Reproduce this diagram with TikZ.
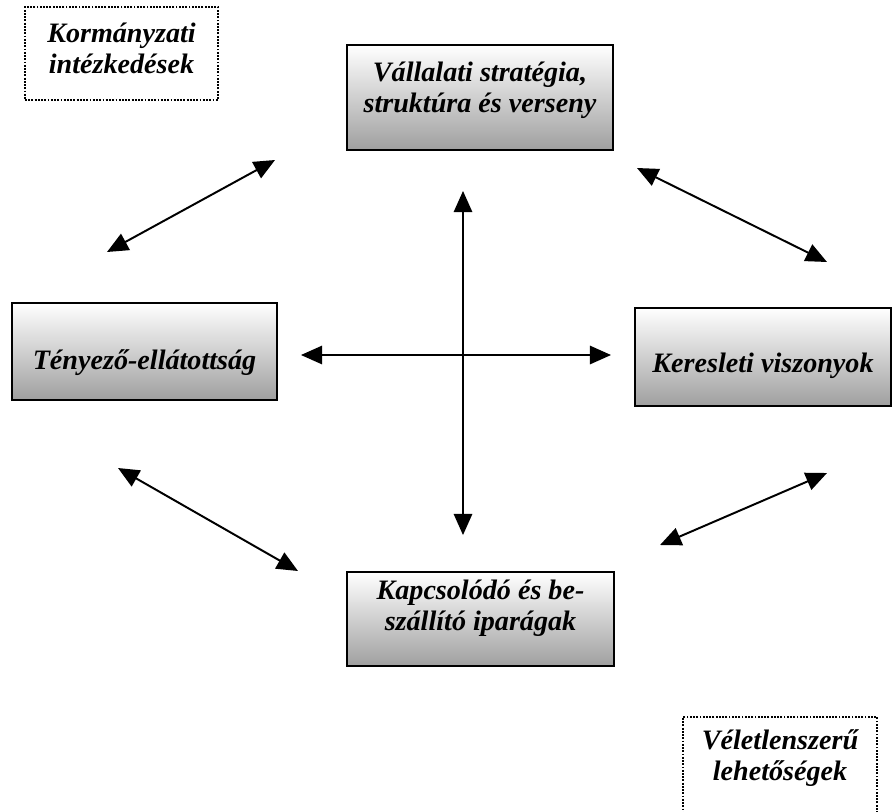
\documentclass[tikz,border=0pt]{standalone}
\usepackage{fontspec}
\setmainfont{Liberation Serif}
\usetikzlibrary{arrows.meta}
\begin{document}
\begin{tikzpicture}[x=0.025cm, y=-0.025cm, >={Triangle[length=15pt,width=13pt]},
  factor box/.style={draw, line width=1.3pt, top color=white, bottom color=gray!75, inner sep=0pt, align=center, font=\fontsize{20}{22}\selectfont\bfseries\itshape},
  outer box/.style={draw, line width=1.3pt, densely dotted, inner sep=0pt, align=center, font=\fontsize{20}{22}\selectfont\bfseries\itshape},
  link/.style={<->, line width=1.4pt}]
\useasboundingbox (0,0) rectangle (892,811);
% four determinants
\node [factor box, minimum width=6.65cm, minimum height=2.625cm, text depth=0.53cm] (strategy) at (480,97.5) {V\'allalati strat\'egia,\\strukt\'ura \'es verseny};
\node [factor box, minimum width=6.625cm, minimum height=2.425cm, text height=1.03cm, text depth=0.15cm] (factor) at (144.5,351.5) {T\'enyez\H{o}-ell\'atotts\'ag};
\node [factor box, minimum width=6.4cm, minimum height=2.45cm, text height=0.93cm, text depth=0.15cm] (demand) at (763,357) {Keresleti viszonyok};
\node [factor box, minimum width=6.675cm, minimum height=2.35cm, text depth=0.68cm] (related) at (480.5,619) {Kapcsol\'od\'o \'es be-\\sz\'all\'it\'o ipar\'agak};
% outside influences
\node [outer box, minimum width=4.825cm, minimum height=2.325cm, text depth=0.25cm] (government) at (121.5,53.5) {Korm\'anyzati\\int\'ezked\'esek};
\node [outer box, minimum width=4.85cm, minimum height=2.4cm, text depth=0.5cm] (chance) at (780,765) {V\'eletlenszer\H{u}\\lehet\H{o}s\'egek};
% arrow ends
\coordinate (mid) at (463,355);
\coordinate (tl a) at (107,252);
\coordinate (tl b) at (275,160);
\coordinate (tr a) at (637,168);
\coordinate (tr b) at (827,262);
\coordinate (bl a) at (118,468);
\coordinate (bl b) at (298,571);
\coordinate (br a) at (660,545);
\coordinate (br b) at (827,473);
\draw [link, shorten <=0.575cm, shorten >=0.575cm] (factor.east |- mid) -- (demand.west |- mid);
\draw [link, shorten <=1cm, shorten >=0.9cm] (strategy.south -| mid) -- (related.north -| mid);
\draw [link] (tl a) -- (tl b);
\draw [link] (tr a) -- (tr b);
\draw [link] (bl a) -- (bl b);
\draw [link] (br a) -- (br b);
\end{tikzpicture}
\end{document}
